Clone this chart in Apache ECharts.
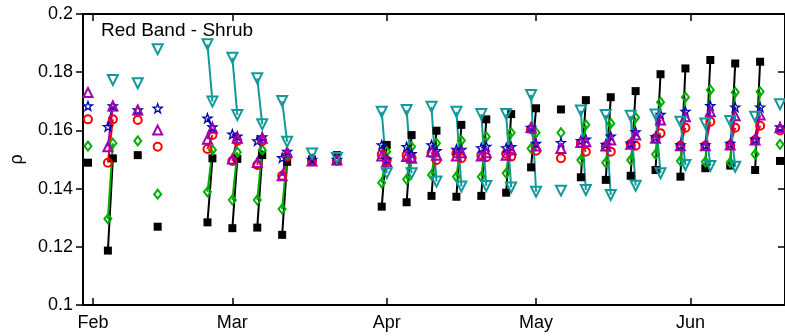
<!DOCTYPE html>
<html><head><meta charset="utf-8">
<script src="https://cdn.jsdelivr.net/npm/echarts@6/dist/echarts.min.js"></script>
<style>html,body{margin:0;padding:0;background:#fff}#c{width:785px;height:336px}</style>
</head><body><div id="c"></div>
<script>
// Cluster dates (day of year); paired second point is one day later
const clusterDays = [31,35,41,45,55,60,65,70,76,81,90,95,100,105,110,115,120,126,130,135,140,145,150,155,160,165,170];
const monthDays = [32,60,91,121,152];
const monthNames = ['Feb','Mar','Apr','May','Jun'];
const yTicks = [0.1,0.12,0.14,0.16,0.18,0.2];

const black1 = [0.1489,0.1187,0.1515,0.1269,0.1284,0.1264,0.1266,0.1241,0.1500,0.1515,0.1338,0.1353,0.1375,0.1372,0.1375,0.1386,0.1473,0.1672,0.1439,0.1430,0.1444,0.1464,0.1441,0.1470,0.1479,0.1464,0.1495];
const black2 = [null,0.1504,null,null,0.1504,0.1502,0.1515,0.1492,null,null,0.1550,0.1584,0.1599,0.1619,0.1638,0.1656,0.1676,null,0.1704,0.1714,0.1735,0.1793,0.1813,0.1842,0.1830,0.1836,null];
const green1 = [0.1546,0.1296,0.1564,0.1381,0.1389,0.1361,0.1361,0.1330,0.1500,0.1500,0.1420,0.1432,0.1447,0.1441,0.1441,0.1453,0.1538,0.1592,0.1498,0.1489,0.1498,0.1518,0.1495,0.1492,0.1490,0.1518,0.1552];
const green2 = [null,0.1556,null,null,0.1533,0.1525,0.1533,0.1515,null,null,0.1527,0.1544,0.1556,0.1565,0.1578,0.1592,0.1592,null,0.1619,0.1624,0.1644,0.1697,0.1714,0.1739,0.1731,0.1733,null];
const red1 = [0.1638,0.1489,0.1636,0.1544,0.1536,0.1495,0.1481,0.1444,0.1495,0.1495,0.1517,0.1515,0.1522,0.1521,0.1515,0.1520,0.1604,0.1504,0.1556,0.1545,0.1553,0.1573,0.1547,0.1547,0.1550,0.1567,0.1600];
const red2 = [null,0.1638,null,null,0.1584,0.1564,0.1564,0.1510,null,null,0.1497,0.1505,0.1498,0.1504,0.1508,0.1510,0.1530,null,0.1527,0.1527,0.1547,0.1590,0.1609,0.1630,0.1609,0.1616,null];
const blue1 = [0.1684,0.1613,0.1670,0.1676,0.1642,0.1587,0.1564,0.1506,0.1500,0.1500,0.1550,0.1544,0.1550,0.1535,0.1540,0.1540,0.1610,0.1558,0.1565,0.1552,0.1556,0.1578,0.1550,0.1550,0.1555,0.1570,0.1612];
const blue2 = [null,0.1684,null,null,0.1612,0.1580,0.1578,0.1528,null,null,0.1500,0.1520,0.1530,0.1535,0.1545,0.1544,0.1555,null,0.1570,0.1580,0.1595,0.1655,0.1665,0.1685,0.1680,0.1680,null];
const purple1 = [0.1730,0.1544,0.1670,0.1601,0.1570,0.1502,0.1490,0.1444,0.1495,0.1498,0.1512,0.1510,0.1527,0.1512,0.1512,0.1515,0.1610,0.1538,0.1558,0.1546,0.1552,0.1573,0.1547,0.1547,0.1550,0.1567,0.1609];
const purple2 = [null,0.1684,null,null,0.1607,0.1573,0.1573,0.1525,null,null,0.1492,0.1504,0.1515,0.1523,0.1523,0.1533,0.1546,null,0.1561,0.1567,0.1584,0.1636,0.1647,0.1664,0.1650,0.1653,null];
const cyan1 = [null,null,0.1762,0.1879,0.1896,0.1850,0.1779,0.1701,0.1521,0.1505,0.1664,0.1670,0.1681,0.1664,0.1656,0.1656,0.1722,0.1393,0.1668,0.1653,0.1650,0.1655,0.1630,0.1624,0.1632,0.1647,0.1690];
const cyan2 = [null,0.1773,null,null,0.1699,0.1653,0.1621,0.1561,null,null,0.1453,0.1453,0.1424,0.1407,0.1409,0.1404,0.1389,null,0.1395,0.1378,0.1410,0.1453,0.1481,0.1478,0.1475,null,null];

const FONT = 'Liberation Sans, Arial, Helvetica, sans-serif';
const STAR = 'path://M0,-10L2.35,-3.24L9.51,-3.09L3.8,1.24L5.88,8.09L0,4L-5.88,8.09L-3.8,1.24L-9.51,-3.09L-2.35,-3.24Z';

function build(v1, v2) {
  const out = [];
  clusterDays.forEach((d, i) => {
    if (v1[i] != null) out.push([d, v1[i]]);
    if (v2[i] != null) out.push([d + 1, v2[i]]);
    out.push([d + 2, '-']);
  });
  return out;
}
function mk(name, v1, v2, color, symbol, size, filled, rotate, bw) {
  return {
    type: 'line', name, data: build(v1, v2), xAxisIndex: 0, yAxisIndex: 0,
    symbol, symbolSize: size, symbolRotate: rotate || 0, showSymbol: true,
    connectNulls: false, animation: false,
    lineStyle: { color, width: 2 },
    itemStyle: filled ? { color, borderColor: color, borderWidth: 0 }
                      : { color: 'rgba(255,255,255,0)', borderColor: color, borderWidth: bw || 2 },
    emphasis: { disabled: true }
  };
}

const chart = echarts.init(document.getElementById('c'), null, { renderer: 'canvas' });
const xBase = { type: 'value', min: 30, max: 171, splitLine: { show: false } };
const yBase = { type: 'value', min: 0.1, max: 0.2, interval: 0.02, splitLine: { show: false } };
chart.setOption({
  animation: false,
  backgroundColor: '#fff',
  grid: { left: 82, top: 14, width: 706, height: 291, containLabel: false },
  graphic: [{ type: 'text', left: 101, top: 21, style: { text: 'Red Band - Shrub', font: '19px ' + FONT, fill: '#000' } }],
  xAxis: [
    Object.assign({}, xBase, { position: 'bottom',
      axisLine: { lineStyle: { color: '#000', width: 2 } },
      axisTick: { inside: true, length: 7, customValues: monthDays, lineStyle: { color: '#000', width: 1.5 } },
      axisLabel: { customValues: monthDays, margin: 9, color: '#000', fontSize: 18, fontFamily: FONT,
        formatter: v => monthNames[monthDays.indexOf(Math.round(v))] || '' } }),
    Object.assign({}, xBase, { position: 'top',
      axisLine: { lineStyle: { color: '#000', width: 2 } },
      axisTick: { inside: true, length: 7, customValues: monthDays, lineStyle: { color: '#000', width: 1.5 } },
      axisLabel: { show: false } })
  ],
  yAxis: [
    Object.assign({}, yBase, { position: 'left', name: 'ρ', nameLocation: 'middle', nameGap: 57, nameRotate: 90,
      nameTextStyle: { color: '#000', fontSize: 18, fontFamily: FONT },
      axisLine: { lineStyle: { color: '#000', width: 2 } },
      axisTick: { inside: false, length: 7, lineStyle: { color: '#000', width: 1.5 } },
      axisLabel: { margin: 10, color: '#000', fontSize: 18, fontFamily: FONT,
        formatter: v => String(+v.toFixed(2)) } }),
    Object.assign({}, yBase, { position: 'right',
      axisLine: { lineStyle: { color: '#000', width: 2 } },
      axisTick: { inside: true, length: 7, lineStyle: { color: '#000', width: 1.5 } },
      axisLabel: { show: false } })
  ],
  series: [
    mk('black', black1, black2, '#000000', 'rect', 8, true),
    mk('green', green1, green2, '#00b000', 'diamond', [7, 9], false),
    mk('red', red1, red2, '#ff0000', 'circle', 8, false),
    mk('blue', blue1, blue2, '#0000b0', STAR, 9, false, 0, 1.3),
    mk('purple', purple1, purple2, '#a000b0', 'triangle', 9, false),
    mk('cyan', cyan1, cyan2, '#129a9a', 'triangle', 10, false, 180)
  ]
});
</script></body></html>
